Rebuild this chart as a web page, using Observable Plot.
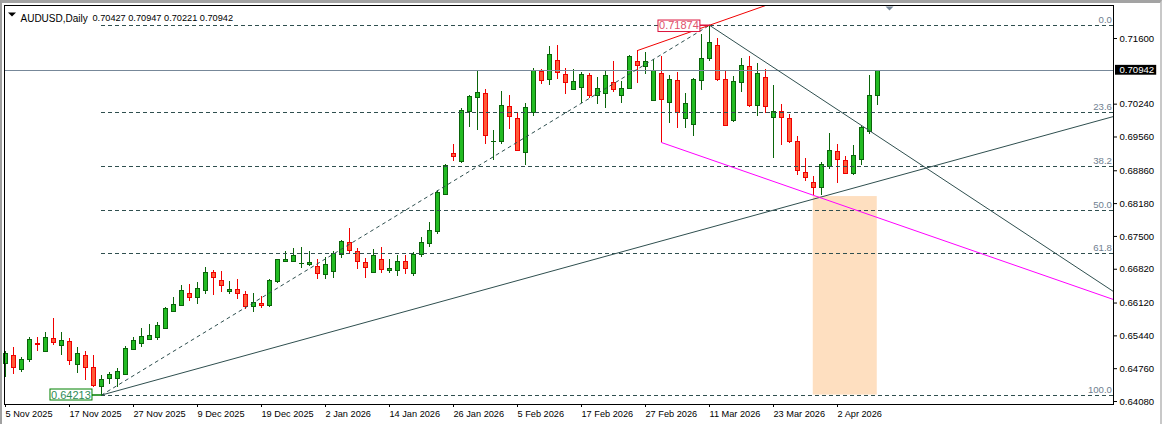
<!DOCTYPE html>
<html><head><meta charset="utf-8">
<style>
html,body{margin:0;padding:0;background:#fff;overflow:hidden}
#chart{position:relative;width:1162px;height:424px;overflow:hidden}
#chart svg{display:block;position:absolute;left:0;top:0}
#chart:after{content:"";position:absolute;inset:0;border-top:3px solid #a3a3a3;border-left:2px solid #a0a0a0;border-right:2px solid #c8c8c8;pointer-events:none}
</style>
<script src="https://cdn.jsdelivr.net/npm/d3@7"></script>
<script src="https://cdn.jsdelivr.net/npm/@observablehq/plot@0.6"></script>
</head><body><div id="chart"></div>
<script>
const opens = [
.64867,.65032,.64742,.64950,.65281,.65115,.65385,.65240,.65323,.64846,
.65032,.64784,.64390,.64556,.64556,.64639,.65157,.65281,.65364,.65405,
.65592,.65944,.66068,.66317,.66234,.66379,.66752,.66586,.66358,.66400,
.66296,.66047,.66110,.66068,.66565,.66980,.66980,.66930,.66918,.66876,
.66711,.66773,.67125,.67374,.67187,.66959,.66752,.67021,.66793,.66793,
.66980,.66731,.67125,.67353,.67601,.68368,.69217,.69052,.70087,.70377,
.70460,.69460,.69466,.70191,.69942,.69238,.70067,.70916,.70750,.71144,
.70854,.70543,.70585,.70833,.70419,.70460,.70688,.70419,.70564,.71123,
.71020,.70315,.70875,.70274,.70730,.69942,.69818,.70730,.71185,.71455,
.70750,.69901,.70688,.71020,.70212,.70792,.69963,.70087,.69942,.69466,
.68824,.68616,.68513,.68948,.69259,.69072,.68803,.69093,.69673,.70427];
const highs = [
.65115,.65198,.64991,.65405,.65405,.65509,.65799,.65509,.65385,.65198,
.65115,.65032,.64618,.64680,.64763,.65219,.65405,.65592,.65675,.65716,
.66027,.66234,.66483,.66503,.66545,.66856,.66793,.66773,.66565,.66607,
.66358,.66317,.66255,.66607,.67021,.67187,.67249,.67270,.67187,.67021,
.67063,.67187,.67415,.67664,.67249,.67042,.67228,.67270,.67021,.67104,
.67104,.67166,.67477,.67788,.68451,.68989,.69404,.70150,.70419,.70937,
.70543,.69694,.70502,.70419,.70067,.70253,.70978,.70957,.71434,.71455,
.70978,.70957,.70895,.70875,.70792,.70937,.71123,.70709,.71248,.71351,
.71310,.71165,.71227,.70833,.70895,.70460,.70771,.71683,.71874,.71600,
.70916,.70812,.71185,.71227,.71082,.70957,.70626,.70232,.70025,.69569,
.69114,.68741,.69031,.69632,.69404,.69155,.69383,.69777,.70833,.70947];
const lows = [
.64577,.64639,.64680,.64887,.65115,.65115,.65240,.65032,.64825,.64660,
.64515,.64370,.64213,.64432,.64370,.64639,.65157,.65198,.65343,.65343,
.65571,.65944,.66047,.66151,.66089,.66296,.66276,.66338,.66296,.66193,
.65985,.65923,.66006,.66027,.66524,.66959,.66959,.66835,.66876,.66607,
.66607,.66628,.67042,.67146,.66814,.66628,.66731,.66731,.66731,.66669,
.66711,.66669,.67063,.67270,.67539,.68347,.69052,.69010,.69756,.69694,
.69404,.69072,.69404,.69714,.69259,.68969,.69984,.70647,.70626,.70750,
.70440,.70522,.70253,.70357,.70232,.70150,.70481,.70253,.70543,.70668,
.70854,.70315,.69445,.69839,.69735,.69735,.69569,.70522,.71123,.70709,
.69797,.69860,.70481,.70170,.69984,.70046,.69114,.69383,.69425,.68762,
.68637,.68347,.68347,.68886,.68596,.68803,.68762,.68969,.69611,.70221];
const closes = [
.65074,.64784,.64950,.65364,.65270,.65405,.65302,.65343,.64929,.65074,
.64784,.64411,.64535,.64639,.64701,.65178,.65343,.65426,.65447,.65654,
.66006,.66089,.66379,.66234,.66420,.66752,.66648,.66483,.66400,.66317,
.66047,.66130,.66068,.66586,.67021,.67021,.67104,.66938,.66959,.66731,
.66918,.67146,.67394,.67208,.66980,.66856,.67104,.66814,.66835,.66980,
.66835,.67125,.67374,.67622,.68409,.68969,.69155,.70108,.70398,.70481,
.69590,.69466,.70212,.69984,.69279,.70170,.70937,.70730,.71268,.70895,
.70688,.70709,.70854,.70419,.70564,.70833,.70543,.70564,.71227,.71040,
.71123,.70937,.70336,.70750,.70067,.70253,.70750,.71185,.71517,.70750,
.69797,.70709,.71040,.70212,.70875,.70191,.70087,.69963,.69466,.68865,
.68720,.68513,.68989,.69279,.69093,.68803,.69176,.69756,.70419,.70942];

const dateTicks = [0,8,16,24,32,40,48,56,64,72,80,88,96,104];
const dateLabels = ["5 Nov 2025","17 Nov 2025","27 Nov 2025","9 Dec 2025","19 Dec 2025","2 Jan 2026","14 Jan 2026","26 Jan 2026","5 Feb 2026","17 Feb 2026","27 Feb 2026","11 Mar 2026","23 Mar 2026","2 Apr 2026"];
const priceTicks = [.716,.7024,.6956,.6886,.6818,.675,.6682,.6612,.6544,.6476,.6408];
const fibPrices = [.71874,.70066,.68947,.68044,.6714,.64213];
const fibLabels = ["0.0","23.6","38.2","50.0","61.8","100.0"];
const swingLow = [12,.64213], swingHigh = [88,.71874];
const risingLine = [[12,.64213],[138.5,.69984]];
const fallingLine = [[88,.71874],[138.5,.66358]];
const redLine = [[79,.71351],[95,.72283]];
const magentaLine = [[82,.69445],[138.5,.66193]];
const zone = {x1:100.97,x2:108.97,y1:.64213,y2:.68326};
const bid = .70942;
const header = "AUDUSD,Daily", ohlcText = "0.70427 0.70947 0.70221 0.70942";

const bars = opens.map((o,i)=>({i,o,h:highs[i],l:lows[i],c:closes[i],up:closes[i]>=o}));
const GREEN_LINE="#0a640a",GREEN_FILL="#22bb22",RED_LINE="#f00000",RED_FILL="#ff5a38",SLATE="#2f4f4f",LABEL="#708090",FONT="'Liberation Sans',Arial,sans-serif";
const bodyHalf=.25;
const flatDown={draw(c){c.moveTo(-4,-2);c.lineTo(4,-2);c.lineTo(0,2);c.closePath();}};

const chart = Plot.plot({
  width:1162,height:424,marginLeft:4,marginRight:49,marginTop:5,marginBottom:20,
  style:{background:"#fff",fontFamily:FONT,fontSize:"9.6px",color:"#000"},
  x:{domain:[-.125,138.5]},
  y:{domain:[.64018,.72284]},
  marks:[
    Plot.rect([zone],{x1:"x1",x2:"x2",y1:"y1",y2:"y2",fill:"#fedfc0"}),
    Plot.ruleX(bars,{x:"i",y1:"l",y2:"h",stroke:d=>d.up?GREEN_LINE:RED_LINE,strokeWidth:1,shapeRendering:"crispEdges"}),
    Plot.rect(bars,{x1:d=>d.i-bodyHalf,x2:d=>d.i+bodyHalf,y1:"o",y2:"c",fill:d=>d.up?GREEN_FILL:RED_FILL,stroke:d=>d.up?GREEN_LINE:RED_LINE,strokeWidth:1,dx:.5,dy:.5,shapeRendering:"crispEdges"}),
    Plot.ruleY(bars,{y:"o",x1:d=>d.i-bodyHalf,x2:d=>d.i+bodyHalf+.06,stroke:d=>d.up?GREEN_LINE:RED_LINE,shapeRendering:"crispEdges"}),
    Plot.ruleY([bid],{stroke:"#778899",strokeWidth:1,shapeRendering:"crispEdges"}),
    Plot.ruleY(fibPrices,{x1:swingLow[0],x2:138.5,stroke:SLATE,strokeDasharray:"4,3",shapeRendering:"crispEdges"}),
    Plot.line([swingLow,swingHigh],{stroke:SLATE,strokeWidth:1,strokeDasharray:"3,4"}),
    Plot.line(risingLine,{stroke:SLATE,strokeWidth:1}),
    Plot.line(fallingLine,{stroke:SLATE,strokeWidth:1}),
    Plot.line(redLine,{stroke:"#f00000",strokeWidth:1}),
    Plot.line(magentaLine,{stroke:"#ff00ff",strokeWidth:1}),
    Plot.text(fibLabels,{text:d=>d,x:138.3,y:(d,i)=>fibPrices[i],dy:-5.5,textAnchor:"end",fill:LABEL,fontSize:9.6}),
    Plot.line([[86.8,.71874],[88,.71874]],{stroke:"#dc143c"}),
    Plot.rect([{x1:81.56,x2:86.8,y1:.71745,y2:.71983}],{x1:"x1",x2:"x2",y1:"y1",y2:"y2",fill:"#fff",stroke:"#dc143c",dx:.5,dy:.5}),
    Plot.text(["0.71874"],{text:d=>d,x:84.18,y:.71864,fill:"#e0506a",fontSize:11}),
    Plot.line([[10.81,.64213],[12,.64213]],{stroke:"#008000"}),
    Plot.rect([{x1:5.56,x2:10.81,y1:.64111,y2:.64339}],{x1:"x1",x2:"x2",y1:"y1",y2:"y2",fill:"#fff",stroke:"#008000",dx:.5,dy:.5}),
    Plot.text(["0.64213"],{text:d=>d,x:8.18,y:.64213,fill:"#2e8b57",fontSize:11}),
    Plot.dot([110.5],{x:d=>d,frameAnchor:"top",dy:3,symbol:flatDown,fill:"#778899",stroke:null,r:3}),
    Plot.dot([header],{frameAnchor:"top-left",dx:7.5,dy:9,symbol:flatDown,fill:"#000",stroke:null,r:3}),
    Plot.text([header],{text:d=>d,frameAnchor:"top-left",dx:16,dy:9,textAnchor:"start",fill:"#000",fontSize:10}),
    Plot.text([ohlcText],{text:d=>d,frameAnchor:"top-left",dx:88,dy:9,textAnchor:"start",fill:"#000",fontSize:9.2}),
    Plot.axisX(dateTicks,{anchor:"bottom",tickSize:3,tickPadding:3,label:null,tickFormat:(d,i)=>dateLabels[i],textAnchor:"start",dx:0,stroke:"#000",fill:"#000",fontSize:9.2}),
    Plot.axisY(priceTicks,{anchor:"right",tickSize:3,tickPadding:3,label:null,tickFormat:d=>d.toFixed(5),stroke:"#000",fill:"#000",fontSize:9.6}),
    Plot.rect([{x1:138.75,x2:143.9,y1:bid-.00102,y2:bid+.00102}],{x1:"x1",x2:"x2",y1:"y1",y2:"y2",fill:"#000"}),
    Plot.text([bid],{text:d=>d.toFixed(5),x:139.25,y:d=>d,textAnchor:"start",fill:"#fff",fontSize:9.6}),
    Plot.frame({stroke:"#000",strokeWidth:1})
  ]
});
document.getElementById("chart").append(chart);
</script></body></html>
